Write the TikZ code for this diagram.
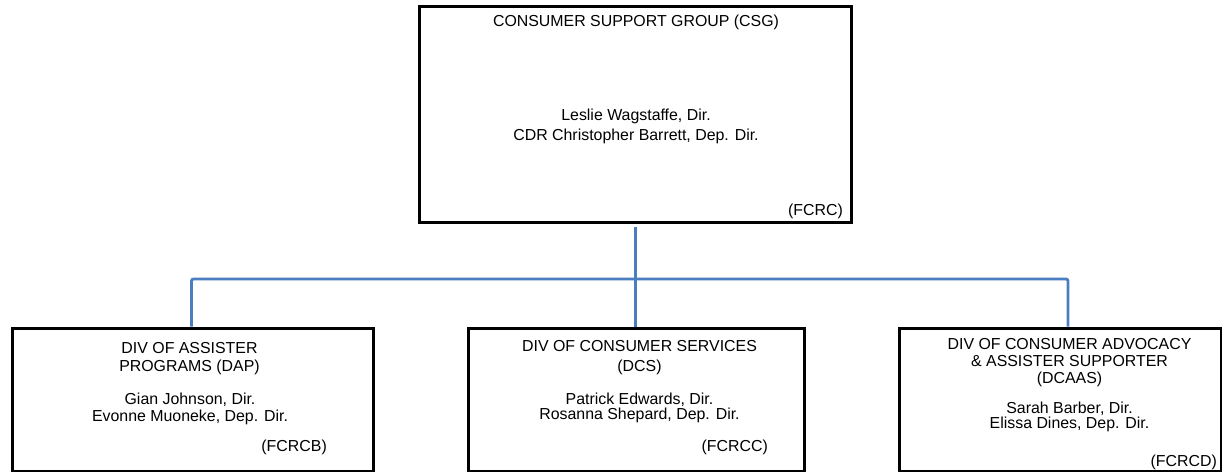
\documentclass[tikz,border=0pt]{standalone}
\usepackage{fontspec}
\setmainfont{Liberation Sans}
\definecolor{connblue}{RGB}{74,126,193}
\begin{document}
\begin{tikzpicture}[x=1pt,y=-1pt,
  orgbox/.style={draw=black, line width=3pt, rectangle, inner sep=0pt},
  conn/.style={draw=connblue, line width=2.8pt},
  txt/.style={font=\fontsize{15.9}{17}\selectfont, align=center, inner sep=0pt, anchor=north},
  code/.style={font=\fontsize{15.9}{17}\selectfont, inner sep=0pt, anchor=north east}]
\useasboundingbox (0,0) rectangle (1222,471);
% boxes
\node[orgbox, minimum width=432pt, minimum height=216.3pt] (csg) at (635.6,114.15) {};
\node[orgbox, minimum width=360.7pt, minimum height=143pt] (dap) at (192.65,399.5) {};
\node[orgbox, minimum width=336pt, minimum height=143pt] (dcs) at (636,399.5) {};
\node[orgbox, minimum width=322pt, minimum height=143pt] (dcaas) at (1060,399.5) {};
% texts top box
\node[txt] (csgt) at (636,14.6) {CONSUMER SUPPORT GROUP (CSG)};
\node[txt, font=\fontsize{15.9}{20}\selectfont] (csgn) at (636,108.8) {Leslie Wagstaffe, Dir.\\CDR Christopher Barrett, Dep. Dir.};
\node[code] (csgc) at (843,203.8) {(FCRC)};
% box 1
\node[txt, font=\fontsize{15.9}{18}\selectfont] (dapt) at (189.5,342.5) {DIV OF ASSISTER\\PROGRAMS (DAP)};
\node[txt] (dapn) at (190,393) {Gian Johnson, Dir.\\Evonne Muoneke, Dep. Dir.};
\node[code] (dapc) at (327,439.6) {(FCRCB)};
% box 2
\node[txt, font=\fontsize{15.9}{20}\selectfont] (dcst) at (639.5,340.4) {DIV OF CONSUMER SERVICES\\(DCS)};
\node[txt, font=\fontsize{15.9}{15.5}\selectfont] (dcsn) at (639.5,392.4) {Patrick Edwards, Dir.\\Rosanna Shepard, Dep. Dir.};
\node[code] (dcsc) at (768,439.6) {(FCRCC)};
% box 3
\node[txt] (dcaast) at (1069.5,338) {DIV OF CONSUMER ADVOCACY\\\& ASSISTER SUPPORTER\\(DCAAS)};
\node[txt, font=\fontsize{15.9}{15.5}\selectfont] (dcaasn) at (1069.5,401.4) {Sarah Barber, Dir.\\Elissa Dines, Dep. Dir.};
\node[code] (dcaasc) at (1217,454.6) {(FCRCD)};
% connectors
\coordinate (busL) at (191.5,279);
\coordinate (busR) at (1068,279);
\coordinate (csgout) at (635.7,226.7);
\draw[conn] (csgout) -- (csgout |- dcs.north);
\draw[conn, rounded corners=2pt] (busL |- dap.north) -- (busL) -- (busR) -- (busR |- dcaas.north);
\end{tikzpicture}
\end{document}
